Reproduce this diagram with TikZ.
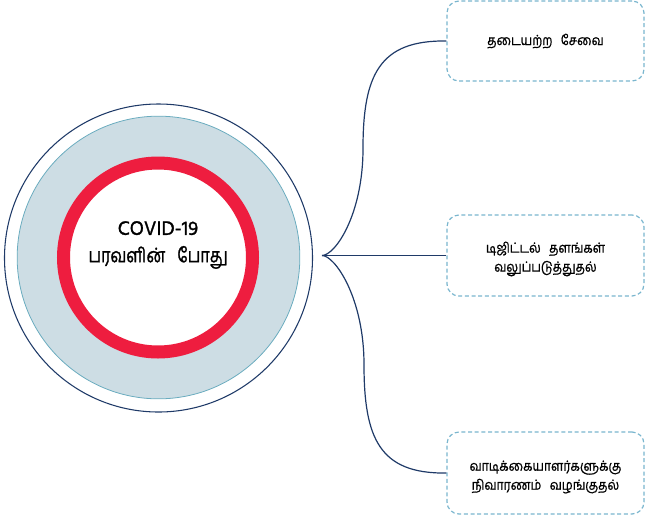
\documentclass[tikz,border=0pt]{standalone}
\usepackage{fontspec}
\newfontfamily\tamilbox[Script=Tamil, FakeStretch=0.87, FakeBold=0.8]{Hind Madurai}
\newfontfamily\tamilhub[Script=Tamil, FakeStretch=0.8, FakeBold=1.2]{Hind Madurai}
\newfontfamily\latinhub[FakeBold=1.2]{Hind Madurai}
\definecolor{navy}{HTML}{1F3A68}
\definecolor{dashblue}{HTML}{7AB6CE}
\definecolor{ringred}{HTML}{EE1D3F}
\definecolor{paleblue}{HTML}{CDDDE4}
\definecolor{palebord}{HTML}{6AACBF}
\begin{document}
\begin{tikzpicture}[x=0.75pt,y=-0.75pt,
  leaf/.style={draw=dashblue, dash pattern=on 3pt off 2pt, line width=0.9pt, rounded corners=9pt,
    minimum width=147.75pt, minimum height=60pt, inner sep=0pt},
  leaftext/.style={align=center, font=\tamilbox\fontsize{10.5}{14.25}\selectfont, inner sep=0pt},
  link/.style={draw=navy, line width=0.9pt}]
\useasboundingbox (0,0) rectangle (647,519);
\node[circle, draw=navy, line width=0.8pt, minimum size=231pt, inner sep=0pt] (outer) at (158.5,258) {};
\node[circle, draw=palebord, fill=paleblue, line width=0.6pt, minimum size=212pt, inner sep=0pt] (band) at (158.5,257.5) {};
\node[circle, draw=ringred, fill=white, line width=9.75pt, minimum size=141.75pt, inner sep=0pt] (ring) at (158,257.5) {};
\node[align=center, font=\fontsize{15}{20.5}\selectfont] (title) at (158,245) {{\latinhub COVID-19}\\{\tamilhub பரவளின்\hspace{0.6em}போது}};
\node[leaf] (b1) at (545.5,41) {};
\node[leaf, minimum height=60.75pt] (b2) at (545.5,255.5) {};
\node[leaf, minimum height=61.5pt] (b3) at (545.5,473) {};
\node[leaftext] (t1) at (b1.center) {தடையற்ற\hspace{0.6em}சேவை};
\node[leaftext] (t2) at ([yshift=-2.6pt]b2.center) {டிஜிட்டல்\hspace{0.6em}தளங்கள்\\வலுப்படுத்துதல்};
\node[leaftext] (t3) at ([yshift=-3pt]b3.center) {வாடிக்கையாளர்களுக்கு\\நிவாரணம்\hspace{0.6em}வழங்குதல்};
\coordinate (hub) at (322,255.5);
\coordinate (m1) at (363,148.5);
\coordinate (m2) at (364,364.5);
\draw[link] (hub) -- (hub -| b2.west);
\draw[link] (hub) .. controls +(13,0) and +(0,66.5) .. (m1) .. controls +(0,-73.5) and +(-67,-1) .. (b1.west);
\draw[link] (hub) .. controls +(13,0) and +(0,-66.5) .. (m2) .. controls +(0,73.5) and +(-67,1) .. (b3.west);
\end{tikzpicture}
\end{document}
